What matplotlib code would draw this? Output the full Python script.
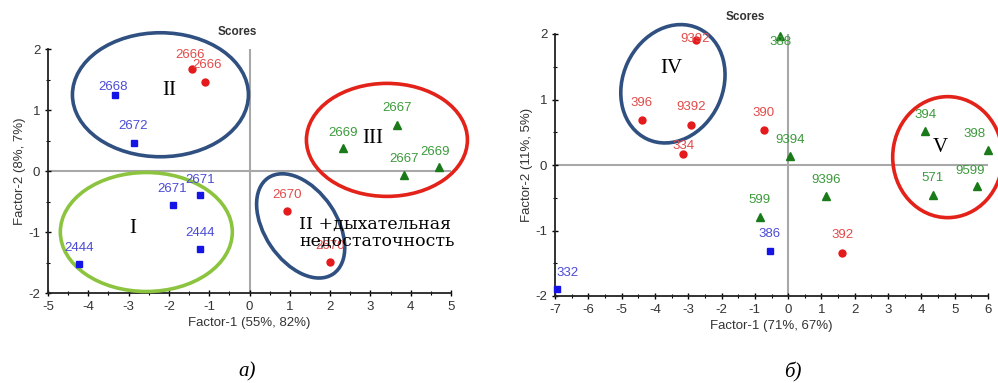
import matplotlib
matplotlib.use("Agg")
import matplotlib.pyplot as plt
from matplotlib.patches import Ellipse
from matplotlib import transforms
from matplotlib.ticker import MultipleLocator

plt.rcParams['font.family'] = ['Liberation Sans', 'DejaVu Sans']
plt.rcParams['axes.unicode_minus'] = False

# ---------------- data: panel a ----------------
a_blue_labels = ["2668", "2672", "2671", "2671", "2444", "2444"]
a_blue_x = [-3.33, -2.86, -1.22, -1.91, -1.22, -4.23]
a_blue_y = [1.25, 0.46, -0.40, -0.55, -1.28, -1.53]

a_red_labels = ["2666", "2666", "2670", "2670"]
a_red_x = [-1.43, -1.10, 0.94, 2.00]
a_red_y = [1.67, 1.46, -0.65, -1.49]

a_green_labels = ["2669", "2667", "2667", "2669"]
a_green_x = [2.31, 3.67, 3.84, 4.71]
a_green_y = [0.37, 0.75, -0.07, 0.07]

# ---------------- data: panel б ----------------
b_red_labels = ["9392", "396", "9392", "334", "390", "392"]
b_red_x = [-2.78, -4.40, -2.92, -3.15, -0.73, 1.63]
b_red_y = [1.91, 0.68, 0.61, 0.17, 0.53, -1.34]

b_blue_labels = ["332", "386"]
b_blue_x = [-6.94, -0.55]
b_blue_y = [-1.90, -1.31]

b_green_labels = ["388", "9394", "394", "398", "9599", "571", "9396", "599"]
b_green_x = [-0.23, 0.05, 4.11, 6.00, 5.68, 4.34, 1.13, -0.85]
b_green_y = [1.97, 0.13, 0.52, 0.23, -0.32, -0.46, -0.48, -0.80]

# label offsets in pixels (layout only)
a_blue_off = [(-2, 8), (-1, 17), (0, 15), (0, 16), (0, 16), (0, 16)]
a_red_off = [(-2, 14), (2, 17), (0, 16), (0, 16)]
a_green_off = [(0, 15), (0, 17), (0, 16), (-4, 15)]
b_red_off = [(0, 1), (0, 17), (0, 18), (0, 8), (0, 17), (0, 18)]
b_blue_off = [(11, 16), (0, 17)]
b_green_off = [(0, -6), (0, 16), (0, 16), (-13, 16), (-7, 15), (0, 17), (0, 16), (0, 17)]

BLUE_M, BLUE_T = '#1414e6', '#4b4bd6'
RED_M, RED_T = '#e41a1c', '#e24a4a'
GREEN_M, GREEN_T = '#1a7a1a', '#3c9a3c'
C_DBLUE, C_RED, C_LGREEN = '#2f5080', '#e32219', '#8cc43f'

fig = plt.figure(figsize=(9.98, 3.83), dpi=100)
W, H = 998, 383

def add_axes_px(x0, x1, ytop, ybot):
    return fig.add_axes([x0 / W, 1 - ybot / H, (x1 - x0) / W, (ybot - ytop) / H])

ax1 = add_axes_px(48, 451, 49, 293)
ax2 = add_axes_px(555, 988, 34, 296)

def style(ax, xlim, ylim):
    ax.set_xlim(*xlim)
    ax.set_ylim(*ylim)
    for s in ['top', 'right']:
        ax.spines[s].set_visible(False)
    for s in ['left', 'bottom']:
        ax.spines[s].set_linewidth(1.3)
        ax.spines[s].set_color('#222222')
    ax.axhline(0, color='#a8a8a8', lw=1.5, zorder=1)
    ax.axvline(0, color='#a8a8a8', lw=1.5, zorder=1)
    ax.xaxis.set_major_locator(MultipleLocator(1))
    ax.yaxis.set_major_locator(MultipleLocator(1))
    ax.xaxis.set_minor_locator(MultipleLocator(0.5))
    ax.yaxis.set_minor_locator(MultipleLocator(0.5))
    ax.tick_params(which='major', direction='inout', length=5, width=1,
                   labelsize=9.5, labelcolor='#333333', pad=3)
    ax.tick_params(which='minor', direction='inout', length=3, width=0.8)
    ax.patch.set_alpha(0)

style(ax1, (-5, 5), (-2, 2))
style(ax2, (-7, 6), (-2, 2))

def scatter(ax, xs, ys, labels, offs, mk, mc, tc, ms):
    ax.plot(xs, ys, linestyle='none', marker=mk, color=mc, ms=ms, clip_on=False, zorder=4)
    for x, y, lab, (dx, dy) in zip(xs, ys, labels, offs):
        ax.annotate(lab, (x, y), xytext=(dx, dy), textcoords='offset pixels',
                    ha='center', va='center', fontsize=9.5, color=tc, zorder=5,
                    annotation_clip=False)

scatter(ax1, a_blue_x, a_blue_y, a_blue_labels, a_blue_off, 's', BLUE_M, BLUE_T, 5)
scatter(ax1, a_red_x, a_red_y, a_red_labels, a_red_off, 'o', RED_M, RED_T, 5)
scatter(ax1, a_green_x, a_green_y, a_green_labels, a_green_off, '^', GREEN_M, GREEN_T, 5.5)
scatter(ax2, b_red_x, b_red_y, b_red_labels, b_red_off, 'o', RED_M, RED_T, 5)
scatter(ax2, b_blue_x, b_blue_y, b_blue_labels, b_blue_off, 's', BLUE_M, BLUE_T, 5)
scatter(ax2, b_green_x, b_green_y, b_green_labels, b_green_off, '^', GREEN_M, GREEN_T, 5.5)

def ellipse(ax, cx, cy, w_px, h_px, ang, color):
    tr = transforms.ScaledTranslation(cx, cy, ax.transData)
    e = Ellipse((0, 0), w_px, h_px, angle=ang, transform=tr, fill=False,
                edgecolor=color, lw=2.6, clip_on=False, zorder=3)
    ax.add_artist(e)

ellipse(ax1, -2.21, 1.25, 176, 124, 0, C_DBLUE)
ellipse(ax1, -2.56, -1.0, 172, 119, 0, C_LGREEN)
ellipse(ax1, 3.41, 0.51, 161, 113, 0, C_RED)
ellipse(ax1, 1.27, -0.90, 116, 72, -56, C_DBLUE)
ellipse(ax2, -3.46, 1.24, 122, 100, 65, C_DBLUE)
ellipse(ax2, 4.79, 0.12, 110, 121, 0, C_RED)

serif = ['Liberation Serif', 'DejaVu Serif']
ax1.text(-2.0, 1.32, "II", family=serif, fontsize=15, ha='center', va='center', zorder=6)
ax1.text(3.07, 0.54, "III", family=serif, fontsize=15, ha='center', va='center', zorder=6)
ax1.text(-2.90, -0.94, "I", family=serif, fontsize=15, ha='center', va='center', zorder=6)
ax1.text(1.24, -1.02, "II +дыхательная\nнедостаточность", family=['DejaVu Serif'],
         fontsize=12.5, ha='left', va='center', linespacing=1.0, zorder=6)
ax2.text(-3.50, 1.48, "IV", family=serif, fontsize=15, ha='center', va='center', zorder=6)
ax2.text(4.56, 0.26, "V", family=serif, fontsize=15, ha='center', va='center', zorder=6)

ax1.set_xlabel("Factor-1 (55%, 82%)", fontsize=9.5, color='#333333', labelpad=3)
ax1.set_ylabel("Factor-2 (8%, 7%)", fontsize=9.5, color='#333333', labelpad=2)
ax2.set_xlabel("Factor-1 (71%, 67%)", fontsize=9.5, color='#333333', labelpad=3)
ax2.set_ylabel("Factor-2 (11%, 5%)", fontsize=9.5, color='#333333', labelpad=2)

fig.text(237 / W, 1 - 32 / H, "Scores", fontsize=8.5, fontweight='bold', color='#333333',
         ha='center', va='center')
fig.text(745 / W, 1 - 17 / H, "Scores", fontsize=8.5, fontweight='bold', color='#333333',
         ha='center', va='center')
fig.text(247 / W, 1 - 372 / H, "a)", family=serif, style='italic', fontsize=15,
         ha='center', va='center')
fig.text(793 / W, 1 - 372 / H, "б)", family=serif, style='italic', fontsize=15,
         ha='center', va='center')

fig.savefig("out.png", dpi=100)
